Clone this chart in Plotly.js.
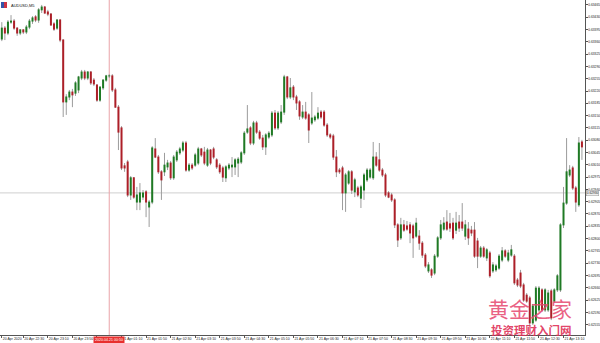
<!DOCTYPE html>
<html>
<head>
<meta charset="utf-8">
<script src="https://cdn.plot.ly/plotly-3.0.1.min.js"></script>
<style>html,body{margin:0;padding:0;background:#fff;}#chart{width:600px;height:343px;}</style>
</head>
<body>
<div id="chart"></div>
<script>
// ---- DATA (AUDUSD, M5) ----
const symbolLabel = "AUDUSD,M5";
const openP = [0.63368,0.63399,0.63385,0.63416,0.63419,0.63399,0.63385,0.63394,0.63388,0.63402,
0.63419,0.63431,0.63422,0.63451,0.63459,0.63445,0.63439,0.63411,0.63399,0.63422,
0.63365,0.63189,0.63203,0.63217,0.63214,0.63223,0.63257,0.63274,0.63257,0.63274,
0.63251,0.63237,0.63194,0.63229,0.63251,0.63263,0.63263,0.63223,0.63174,0.63115,
0.63007,0.63018,0.62924,0.62973,0.62904,0.62904,0.62918,0.62933,0.62890,0.62904,
0.63055,0.63032,0.62990,0.62990,0.63004,0.63015,0.62973,0.63024,0.63044,0.63052,
0.63072,0.62995,0.63009,0.63009,0.63015,0.63055,0.63046,0.63009,0.63052,0.63055,
0.63024,0.63009,0.63001,0.62973,0.63001,0.63004,0.63004,0.63015,0.63018,0.63044,
0.63103,0.63115,0.63072,0.63129,0.63103,0.63086,0.63061,0.63089,0.63095,0.63157,
0.63115,0.63132,0.63160,0.63260,0.63203,0.63231,0.63203,0.63189,0.63146,0.63160,
0.63152,0.63129,0.63138,0.63143,0.63160,0.63160,0.63123,0.63095,0.63092,0.63032,
0.62995,0.63001,0.62930,0.62958,0.62990,0.62933,0.62944,0.62915,0.62938,0.62967,
0.62975,0.62973,0.63032,0.63024,0.62995,0.62981,0.62930,0.62924,0.62910,0.62839,
0.62802,0.62839,0.62836,0.62839,0.62836,0.62807,0.62807,0.62787,0.62753,0.62708,
0.62711,0.62702,0.62750,0.62802,0.62827,0.62847,0.62842,0.62844,0.62824,0.62847,
0.62847,0.62807,0.62827,0.62824,0.62824,0.62793,0.62750,0.62773,0.62745,0.62759,
0.62708,0.62711,0.62716,0.62739,0.62765,0.62739,0.62753,0.62750,0.62682,0.62702,
0.62668,0.62639,0.62631,0.62560,0.62568,0.62597,0.62654,0.62597,0.62597,0.62651,
0.62622,0.62654,0.62654,0.62839,0.62901,0.62981,0.63001,0.62944,0.62896,0.63075];
const highP = [0.63416,0.63405,0.63422,0.63436,0.63425,0.63402,0.63396,0.63396,0.63408,0.63425,
0.63433,0.63436,0.63456,0.63465,0.63462,0.63451,0.63442,0.63416,0.63425,0.63425,
0.63368,0.63211,0.63223,0.63226,0.63248,0.63263,0.63280,0.63280,0.63277,0.63277,
0.63257,0.63240,0.63234,0.63254,0.63266,0.63268,0.63268,0.63229,0.63180,0.63120,
0.63015,0.63024,0.62978,0.62975,0.62947,0.62958,0.62938,0.62938,0.62910,0.63063,
0.63086,0.63038,0.62995,0.63044,0.63024,0.63021,0.63038,0.63052,0.63061,0.63078,
0.63078,0.63015,0.63015,0.63044,0.63061,0.63058,0.63061,0.63058,0.63055,0.63061,
0.63029,0.63015,0.63007,0.63009,0.63015,0.63032,0.63029,0.63032,0.63049,0.63106,
0.63180,0.63120,0.63135,0.63135,0.63109,0.63095,0.63100,0.63106,0.63163,0.63166,
0.63163,0.63180,0.63266,0.63263,0.63257,0.63237,0.63209,0.63194,0.63180,0.63189,
0.63157,0.63217,0.63152,0.63174,0.63166,0.63166,0.63129,0.63100,0.63098,0.63052,
0.63001,0.63007,0.62987,0.62995,0.62995,0.62973,0.62950,0.62953,0.62987,0.63001,
0.63001,0.63075,0.63046,0.63072,0.63001,0.62987,0.62935,0.62930,0.62915,0.62844,
0.62859,0.62853,0.62850,0.62847,0.62842,0.62859,0.62824,0.62793,0.62759,0.62733,
0.62716,0.62756,0.62807,0.62853,0.62861,0.62881,0.62873,0.62859,0.62876,0.62867,
0.62901,0.62853,0.62847,0.62836,0.62847,0.62802,0.62779,0.62779,0.62773,0.62765,
0.62733,0.62728,0.62756,0.62776,0.62770,0.62768,0.62782,0.62756,0.62688,0.62711,
0.62674,0.62645,0.62637,0.62614,0.62665,0.62665,0.62659,0.62659,0.62654,0.62657,
0.62659,0.62699,0.62844,0.62947,0.63086,0.63009,0.63007,0.62950,0.63089,0.63081];
const lowP = [0.63362,0.63365,0.63379,0.63411,0.63394,0.63377,0.63379,0.63382,0.63382,0.63396,
0.63411,0.63416,0.63414,0.63442,0.63439,0.63433,0.63405,0.63391,0.63394,0.63359,
0.63146,0.63152,0.63194,0.63174,0.63206,0.63214,0.63251,0.63251,0.63251,0.63237,
0.63234,0.63189,0.63189,0.63223,0.63246,0.63257,0.63217,0.63172,0.63052,0.62995,
0.62990,0.62918,0.62910,0.62913,0.62881,0.62881,0.62910,0.62861,0.62833,0.62898,
0.63029,0.62984,0.62910,0.62978,0.62995,0.62967,0.62967,0.63018,0.63038,0.63046,
0.62990,0.62990,0.62995,0.63004,0.63009,0.63032,0.63009,0.63004,0.63009,0.63026,
0.62998,0.62984,0.62961,0.62961,0.62995,0.62975,0.62981,0.62975,0.63012,0.63038,
0.63098,0.63066,0.63066,0.63098,0.63081,0.63052,0.63038,0.63083,0.63089,0.63109,
0.63109,0.63126,0.63152,0.63197,0.63197,0.63194,0.63166,0.63138,0.63140,0.63138,
0.63072,0.63123,0.63132,0.63138,0.63140,0.63118,0.63089,0.63083,0.63024,0.62975,
0.62984,0.62881,0.62876,0.62953,0.62927,0.62918,0.62918,0.62887,0.62910,0.62961,
0.62970,0.62967,0.63004,0.62990,0.62975,0.62918,0.62915,0.62904,0.62830,0.62776,
0.62796,0.62819,0.62822,0.62787,0.62745,0.62802,0.62768,0.62745,0.62716,0.62702,
0.62688,0.62696,0.62745,0.62796,0.62822,0.62822,0.62819,0.62796,0.62813,0.62819,
0.62822,0.62796,0.62782,0.62807,0.62745,0.62716,0.62745,0.62745,0.62736,0.62688,
0.62702,0.62705,0.62711,0.62733,0.62745,0.62733,0.62748,0.62668,0.62662,0.62659,
0.62620,0.62617,0.62551,0.62554,0.62563,0.62591,0.62591,0.62591,0.62591,0.62568,
0.62617,0.62648,0.62648,0.62830,0.62896,0.62975,0.62938,0.62876,0.62890,0.63024];
const closeP = [0.63399,0.63385,0.63416,0.63419,0.63399,0.63385,0.63394,0.63388,0.63402,0.63419,
0.63428,0.63422,0.63451,0.63459,0.63442,0.63439,0.63408,0.63396,0.63422,0.63365,
0.63189,0.63203,0.63217,0.63209,0.63243,0.63260,0.63274,0.63257,0.63274,0.63243,
0.63240,0.63194,0.63231,0.63251,0.63263,0.63263,0.63223,0.63174,0.63103,0.63001,
0.63001,0.62924,0.62973,0.62918,0.62924,0.62930,0.62930,0.62904,0.62904,0.63058,
0.63032,0.62990,0.62967,0.63009,0.63015,0.62973,0.63032,0.63046,0.63055,0.63072,
0.62995,0.63009,0.63001,0.63038,0.63055,0.63038,0.63015,0.63052,0.63015,0.63032,
0.63004,0.62990,0.62975,0.63004,0.63009,0.63009,0.63024,0.63026,0.63044,0.63100,
0.63112,0.63072,0.63129,0.63103,0.63086,0.63061,0.63095,0.63100,0.63157,0.63115,
0.63157,0.63160,0.63260,0.63203,0.63229,0.63203,0.63186,0.63149,0.63160,0.63143,
0.63109,0.63143,0.63146,0.63157,0.63146,0.63123,0.63095,0.63089,0.63032,0.62990,
0.62990,0.62930,0.62981,0.62990,0.62938,0.62967,0.62924,0.62947,0.62981,0.62995,
0.62995,0.63032,0.63009,0.62995,0.62981,0.62924,0.62918,0.62910,0.62839,0.62796,
0.62839,0.62824,0.62827,0.62816,0.62802,0.62844,0.62787,0.62753,0.62722,0.62725,
0.62696,0.62750,0.62802,0.62839,0.62844,0.62827,0.62830,0.62802,0.62844,0.62830,
0.62830,0.62839,0.62802,0.62816,0.62750,0.62750,0.62773,0.62750,0.62768,0.62694,
0.62725,0.62722,0.62750,0.62765,0.62750,0.62759,0.62768,0.62674,0.62668,0.62665,
0.62625,0.62622,0.62560,0.62608,0.62659,0.62659,0.62597,0.62654,0.62645,0.62574,
0.62654,0.62694,0.62839,0.62901,0.62990,0.62995,0.62944,0.62904,0.63072,0.63061];

// time axis: bar index of each label and its text (the 00:30 label is hidden under the crosshair label)
const timeTickIdx = [0,7,15,23,31,39,47,55,63,71,79,87,95,103,111,119,127,135,143,151,159,167,175,183];
const timeLabels = ["20 Apr 2020","20 Apr 22:30","20 Apr 23:10","20 Apr 23:50","","21 Apr 01:10","21 Apr 01:50","21 Apr 02:30","21 Apr 03:10","21 Apr 03:50","21 Apr 04:30","21 Apr 05:10","21 Apr 05:50","21 Apr 06:30","21 Apr 07:10","21 Apr 07:50","21 Apr 08:30","21 Apr 09:10","21 Apr 09:50","21 Apr 10:30","21 Apr 11:10","21 Apr 11:50","21 Apr 12:30","21 Apr 13:10"];
const priceTicks = [0.63465,0.63430,0.63395,0.63360,0.63325,0.63290,0.63255,0.63220,0.63185,0.63150,0.63115,0.63080,0.63045,0.63010,0.62975,0.62940,0.62905,0.62870,0.62835,0.62800,0.62765,0.62730,0.62695,0.62660,0.62625,0.62590,0.62555];
const crossBar = 35, crossTimeText = "2020.04.21 00:50";
const crossPrice = 0.62930, crossPriceText = "0.62930";
const wmTitle = "黄金之家", wmSub = "投资理财入门网";

// ---- build traces ----
const n = openP.length;
const wx = [], wy = [], ux = [], uy = [], dx = [], dy = [];
const eps = 0.000014;
for (let i = 0; i < n; i++) {
  wx.push(i, i, null); wy.push(lowP[i], highP[i], null);
  const lo = Math.min(openP[i], closeP[i]) - eps, hi = Math.max(openP[i], closeP[i]) + eps;
  if (closeP[i] >= openP[i]) { ux.push(i, i, null); uy.push(lo, hi, null); }
  else { dx.push(i, i, null); dy.push(lo, hi, null); }
}
const traces = [
  {type:'scatter', mode:'lines', x:wx, y:wy, line:{color:'#9c9c9c', width:1}, hoverinfo:'skip', connectgaps:false},
  {type:'scatter', mode:'lines', x:ux, y:uy, line:{color:'#1f7a24', width:2}, hoverinfo:'skip', connectgaps:false},
  {type:'scatter', mode:'lines', x:dx, y:dy, line:{color:'#ad1f28', width:2}, hoverinfo:'skip', connectgaps:false}
];

const W = 585, H = 335;
const layout = {
  width:600, height:343,
  margin:{l:0, r:15, t:0, b:8, pad:0},
  paper_bgcolor:'#ffffff', plot_bgcolor:'#ffffff',
  showlegend:false,
  font:{family:'Liberation Sans, Arial, sans-serif', color:'#222'},
  xaxis:{
    range:[-0.59, 190.0], showgrid:false, zeroline:false,
    showline:true, linecolor:'#555', linewidth:1,
    tickvals:timeTickIdx, ticktext:timeLabels, tickangle:0,
    ticks:'outside', ticklen:2, tickcolor:'#555', tickwidth:1,
    ticklabelposition:'outside right', tickfont:{size:3.5, color:'#222'},
    fixedrange:true
  },
  yaxis:{
    range:[0.625256, 0.63479], side:'right', showgrid:false, zeroline:false,
    showline:true, linecolor:'#555', linewidth:1,
    tickvals:priceTicks, tickformat:'.5f',
    ticks:'outside', ticklen:1.5, tickcolor:'#555', tickwidth:1,
    tickfont:{size:3.3, color:'#222'}, fixedrange:true
  },
  shapes:[
    {type:'line', xref:'paper', x0:0, x1:1, yref:'y', y0:crossPrice, y1:crossPrice, line:{color:'#cfcfcf', width:1}, layer:'below'},
    {type:'line', xref:'x', x0:crossBar, x1:crossBar, yref:'paper', y0:0, y1:1, line:{color:'#e9a3a8', width:1}, layer:'below'},
    {type:'rect', xref:'paper', yref:'paper', x0:1/W, x1:4/W, y0:1-8/H, y1:1-2/H, fillcolor:'#3355aa', line:{width:0}},
    {type:'rect', xref:'paper', yref:'paper', x0:4/W, x1:7/W, y0:1-8/H, y1:1-2/H, fillcolor:'#cc3344', line:{width:0}}
  ],
  annotations:[
    {xref:'paper', yref:'paper', x:9/W, y:1-5/H, xanchor:'left', yanchor:'middle', text:symbolLabel, showarrow:false, font:{size:4, color:'#111'}},
    {xref:'x', yref:'paper', x:crossBar, y:0, yanchor:'top', xanchor:'center', yshift:-0.5, text:crossTimeText, showarrow:false,
     bgcolor:'#e8302e', borderpad:1, font:{size:3.6, color:'#ffffff'}},
    {xref:'paper', yref:'y', x:1, y:crossPrice, xanchor:'left', yanchor:'middle', xshift:1, text:crossPriceText, showarrow:false,
     bgcolor:'#eeeeee', bordercolor:'#999', borderwidth:0.5, borderpad:0.3, font:{size:3.2, color:'#222'}},
    {xref:'paper', yref:'paper', x:530/W, y:1-308/H, xanchor:'center', yanchor:'middle', text:wmTitle, showarrow:false, borderpad:0,
     font:{family:'Noto Sans CJK SC', size:21, color:'rgba(230,70,110,0.85)'}},
    {xref:'paper', yref:'paper', x:531/W, y:1-329.5/H, xanchor:'center', yanchor:'middle', text:wmSub, showarrow:false, borderpad:0,
     font:{family:'Noto Sans CJK SC', size:11.5, weight:'bold', color:'rgba(222,45,85,0.9)'}}
  ]
};
Plotly.newPlot('chart', traces, layout, {displayModeBar:false, staticPlot:true});
</script>
</body>
</html>
